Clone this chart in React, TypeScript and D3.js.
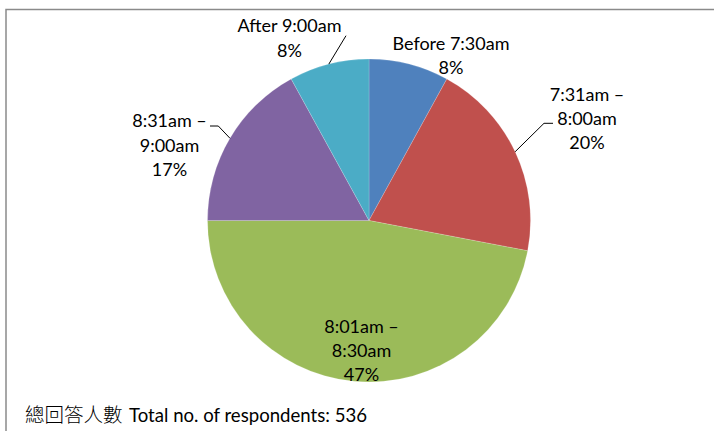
import React from "react";
import * as d3 from "d3";

// Arrival time bands and the share of respondents in each (percent)
const categories = ["Before 7:30am", "7:31am – 8:00am", "8:01am – 8:30am", "8:31am – 9:00am", "After 9:00am"];
const labelLines = [["Before 7:30am"], ["7:31am –", "8:00am"], ["8:01am –", "8:30am"], ["8:31am –", "9:00am"], ["After 9:00am"]];
const shares = [8, 20, 47, 17, 8];
const colors = ["#4F81BD", "#C0504D", "#9BBB59", "#8064A2", "#4BACC6"];
const totalRespondents = 536;
const footerZh = "總回答人數";
const footerEn = "Total no. of respondents: ";

// Layout of the chart
const W = 714;
const H = 431;
const CX = 369;
const CY = 220.5;
const R = 161.5;
const LINE_H = 24.3;
const FONT = "Lato, 'Noto Sans', sans-serif";

// Text block placement: centre x, first baseline y, optional leader elbow/end points
type LabelPos = { x: number; y: number; leader?: [number, number][] };
const labelLayout: LabelPos[] = [
  { x: 451, y: 50 },
  { x: 587, y: 100.5, leader: [[544, 123.3], [553, 123.3]] },
  { x: 361.5, y: 332.5 },
  { x: 169.5, y: 127.3, leader: [[218.3, 126], [210, 126]] },
  { x: 289.5, y: 32.3, leader: [[346, 35.7]] },
];

export default function App() {
  const pie = d3
    .pie<number>()
    .sort(null)
    .value((d) => d);
  const arcs = pie(shares);
  const arc = d3.arc<d3.PieArcDatum<number>>().innerRadius(0).outerRadius(R);
  const fmt = d3.format(".0f");

  const edgePoint = (a: d3.PieArcDatum<number>): [number, number] => {
    const mid = (a.startAngle + a.endAngle) / 2;
    return [CX + R * Math.sin(mid), CY - R * Math.cos(mid)];
  };

  return (
    <svg
      width={W}
      height={H}
      viewBox={`0 0 ${W} ${H}`}
      style={{ position: "absolute", left: 0, top: 0, background: "#fff" }}
    >
      <defs>
        <clipPath id="plot-clip">
          <rect x={0} y={0} width={W} height={381} />
        </clipPath>
      </defs>

      {/* chart frame */}
      <path d={`M6,${H} L6,9.5 L${W},9.5`} fill="none" stroke="#8a8a8a" strokeWidth={1.5} />

      <g transform={`translate(${CX},${CY})`}>
        {arcs.map((a, i) => (
          <path key={categories[i]} d={arc(a) || ""} fill={colors[i]} stroke="#ffffff" strokeOpacity={0.35} strokeWidth={0.5} />
        ))}
      </g>

      {/* leader lines */}
      {arcs.map((a, i) => {
        const pos = labelLayout[i];
        if (!pos.leader) return null;
        const pts = [edgePoint(a), ...pos.leader];
        return (
          <path
            key={`leader-${i}`}
            d={d3.line()(pts) || ""}
            fill="none"
            stroke="#000"
            strokeWidth={1}
          />
        );
      })}

      {/* data labels */}
      <g clipPath="url(#plot-clip)" fontFamily={FONT} fontSize={18} fill="#000" textAnchor="middle">
        {arcs.map((a, i) => {
          const pos = labelLayout[i];
          const lines = [...labelLines[i], `${fmt(shares[i])}%`];
          return (
            <text key={`label-${i}`} x={pos.x} y={pos.y}>
              {lines.map((t, j) => (
                <tspan key={j} x={pos.x} y={pos.y + j * LINE_H}>
                  {t}
                </tspan>
              ))}
            </text>
          );
        })}
      </g>

      {/* respondents note */}
      <text x={25} y={421.5} fill="#000">
        <tspan fontFamily="'Noto Sans CJK TC', sans-serif" fontSize={19.5} fontWeight={300}>
          {footerZh}
        </tspan>
        <tspan x={129} fontFamily={FONT} fontSize={18.6}>
          {footerEn}
          {totalRespondents}
        </tspan>
      </text>
    </svg>
  );
}
